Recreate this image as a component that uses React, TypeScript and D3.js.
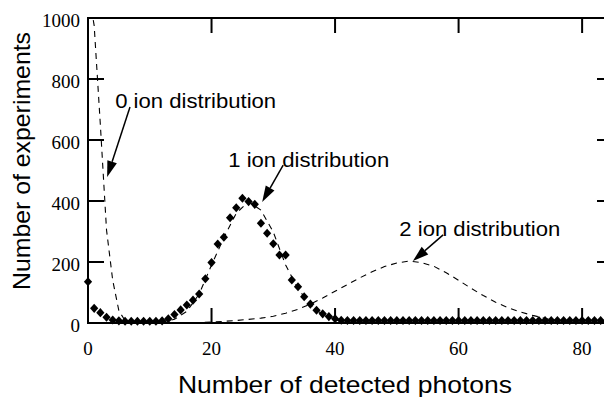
import * as d3 from "d3";
import { useEffect } from "react";

// photon counts 0..84
const photons = d3.range(0, 85);

// measured histogram (diamonds)
const measured = [
  135, 48, 34, 19, 10, 7, 6, 6, 6, 6, 6, 6, 7, 14, 28, 43, 59, 75, 95, 145,
  198, 259, 281, 345, 378, 409, 398, 389, 327, 294, 260, 223, 223, 141, 119, 86, 62, 42, 30, 21,
  14, 9, 8, 8, 8, 8, 8, 8, 8, 8, 8, 8, 8, 8, 8, 8, 8, 8, 8, 8,
  8, 8, 8, 8, 8, 8, 8, 8, 8, 8, 8, 8, 8, 8, 8, 8, 8, 8, 8, 8,
  8, 8, 8, 8, 8,
];

// 0 ion fit (dashed)
const zeroX = [0, 1, 2, 3, 4, 5, 6, 7, 8, 12];
const zeroY = [1100, 975, 650, 305, 140, 40, 8, 2, 0, 0];

// 1 ion fit (dashed)
const oneX = [10, 12, 14, 16, 18, 20, 22, 24, 26, 28, 30, 32, 34, 36, 38, 40, 42, 44];
const oneY = [0, 2, 12, 38, 95, 190, 280, 360, 398, 370, 298, 190, 112, 60, 27, 10, 3, 0];

// 2 ion fit (dashed)
const twoX = [10, 16, 20, 24, 28, 30, 32, 34, 36, 38, 40, 42, 44, 46, 48, 50, 52, 54, 56, 58,
  60, 62, 64, 66, 68, 70, 72, 74, 76, 78, 80, 85];
const twoY = [0, 0, 3, 8, 16, 22, 32, 45, 62, 82, 104, 126, 148, 168, 185, 197, 203, 198, 186, 165,
  140, 114, 90, 68, 50, 36, 25, 15, 8, 3, 1, 0];

const xTicks = [0, 20, 40, 60, 80];
const yTicks = [0, 200, 400, 600, 800, 1000];

// annotations: label position, arrow tail and tip in data units
const notes = [
  { text: "0 ion distribution", tx: 4.4, ty: 705, ax: 6.8, ay: 708, bx: 3.1, by: 479 },
  { text: "1 ion distribution", tx: 22.7, ty: 511, ax: 31.6, ay: 518, bx: 28.2, by: 397 },
  { text: "2 ion distribution", tx: 50.4, ty: 285, ax: 57.5, ay: 289, bx: 52.6, by: 203 },
];

const W = 604;
const H = 397;
const left = 88;
const right = 613;
const top = 18;
const bottom = 323;

const serif = "Liberation Serif, Times New Roman, serif";
const sans = "Liberation Sans, Arial, Helvetica, sans-serif";

export default function App() {
  useEffect(() => {
    document.body.style.margin = "0";
  }, []);

  const x = d3.scaleLinear().domain([0, 85]).range([left, right]);
  const y = d3.scaleLinear().domain([0, 1000]).range([bottom, top]);

  const line = d3
    .line<[number, number]>()
    .x((d) => x(d[0]))
    .y((d) => y(d[1]));

  const zip = (a: number[], b: number[]) => a.map((v, i) => [v, b[i]] as [number, number]);

  const diamond = d3.symbol().type(d3.symbolSquare).size(34)() as string;

  return (
    <svg width={W} height={H} style={{ display: "block", background: "#fff" }}>
      <defs>
        <clipPath id="plot">
          <rect x={left} y={top} width={right - left} height={bottom - top} />
        </clipPath>
      </defs>

      <g clipPath="url(#plot)" fill="none" stroke="#000" strokeWidth={1.1} strokeDasharray="6,5">
        <path d={line(zip(zeroX, zeroY)) as string} />
        <path d={line(zip(oneX, oneY)) as string} />
        <path d={line(zip(twoX, twoY)) as string} />
      </g>

      <g fill="#000">
        {photons.map((k, i) => (
          <path key={k} d={diamond} transform={`translate(${x(k)},${y(measured[i])}) scale(1,1.1) rotate(45)`} />
        ))}
      </g>

      {/* frame */}
      <g stroke="#000" strokeWidth={2} fill="none">
        <rect x={left} y={top} width={right - left} height={bottom - top} />
        {xTicks.slice(1).map((t) => (
          <g key={t}>
            <line x1={x(t)} x2={x(t)} y1={bottom} y2={bottom - 15} />
            <line x1={x(t)} x2={x(t)} y1={top} y2={top + 15} />
          </g>
        ))}
        {yTicks.slice(1, -1).map((t) => (
          <g key={t}>
            <line x1={left} x2={left + 16} y1={y(t)} y2={y(t)} />
            <line x1={right} x2={right - 16} y1={y(t)} y2={y(t)} />
          </g>
        ))}
      </g>

      <g style={{ fontFamily: serif, fontSize: 19 }} fill="#000">
        {xTicks.map((t) => (
          <text key={t} x={x(t)} y={355} textAnchor="middle">
            {t}
          </text>
        ))}
        {yTicks.map((t) => (
          <text key={t} x={80} y={y(t) + 9} textAnchor="end">
            {t}
          </text>
        ))}
      </g>

      <g style={{ fontFamily: sans }} fill="#000">
        <text x={345} y={393} fontSize={24} textAnchor="middle" textLength={334} lengthAdjust="spacingAndGlyphs">
          Number of detected photons
        </text>
        <text
          transform={`translate(30,161) rotate(-90)`}
          fontSize={24}
          textAnchor="middle"
          textLength={258}
          lengthAdjust="spacingAndGlyphs"
        >
          Number of experiments
        </text>
      </g>

      {notes.map((n) => {
        const x0 = x(n.ax);
        const y0 = y(n.ay);
        const x1 = x(n.bx);
        const y1 = y(n.by);
        const len = Math.hypot(x1 - x0, y1 - y0);
        const ux = (x1 - x0) / len;
        const uy = (y1 - y0) / len;
        const hl = 16;
        const hw = 5;
        const bx = x1 - ux * hl;
        const by = y1 - uy * hl;
        const head = [
          [x1, y1],
          [bx - uy * hw, by + ux * hw],
          [bx + uy * hw, by - ux * hw],
        ];
        return (
          <g key={n.text}>
            <line x1={x0} y1={y0} x2={bx} y2={by} stroke="#000" strokeWidth={1.5} />
            <polygon points={head.map((p) => p.join(",")).join(" ")} fill="#000" />
            <text x={x(n.tx)} y={y(n.ty)} style={{ fontFamily: sans }} fontSize={21} fill="#000" textLength={161} lengthAdjust="spacingAndGlyphs">
              {n.text}
            </text>
          </g>
        );
      })}
    </svg>
  );
}
